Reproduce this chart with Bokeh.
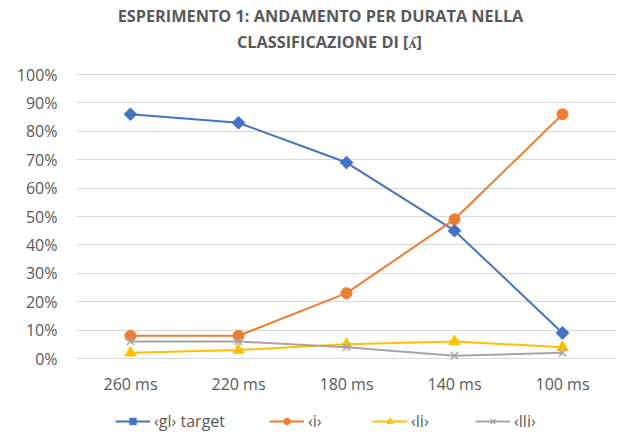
import math
from bokeh.plotting import figure
from bokeh.models import FactorRange, Range1d, Legend, LegendItem, NumeralTickFormatter, FixedTicker, Label
from bokeh.core.properties import value
from bokeh.embed import file_html
from bokeh.resources import INLINE

categories = ["260 ms", "220 ms", "180 ms", "140 ms", "100 ms"]
gl_target = [0.86, 0.83, 0.69, 0.45, 0.09]
i_vals = [0.08, 0.08, 0.23, 0.49, 0.86]
li_vals = [0.02, 0.03, 0.05, 0.06, 0.04]
lli_vals = [0.06, 0.06, 0.04, 0.01, 0.02]
series_names = ["‹gl› target", "‹i›", "‹li›", "‹lli›"]
y_ticks = [0, 0.1, 0.2, 0.3, 0.4, 0.5, 0.6, 0.7, 0.8, 0.9, 1.0]
title_lines = ["ESPERIMENTO 1: ANDAMENTO PER DURATA NELLA", "CLASSIFICAZIONE DI [ʎ]"]

FONT = "Open Sans"
TXT = "#595959"
PX = 284.0  # pixels per 100%

p = figure(width=617, height=433, x_range=FactorRange(*categories),
           y_range=Range1d(-(433 - 358) / PX, 1 + 74 / PX),
           x_axis_location=None,
           output_backend="svg", toolbar_location=None,
           min_border_left=76, min_border_right=1, min_border_top=0, min_border_bottom=0)
p.outline_line_color = None
p.background_fill_color = "white"
p.border_fill_color = "white"

ax = p.yaxis
ax.axis_line_color = None
ax.major_tick_line_color = None
ax.minor_tick_line_color = None
ax.major_label_text_color = TXT
ax.major_label_text_font = FONT
ax.major_label_text_font_size = "16px"
ax.ticker = FixedTicker(ticks=y_ticks)
ax.formatter = NumeralTickFormatter(format="0%")
ax.major_label_standoff = 13
p.xgrid.grid_line_color = None
p.ygrid.grid_line_color = "#D9D9D9"
p.ygrid.grid_line_width = 1
p.ygrid.ticker = FixedTicker(ticks=y_ticks)

# category labels (x axis)
p.text(x=categories, y=[-25 / PX] * len(categories), text=categories,
       text_align="center", text_baseline="middle", text_color=TXT,
       text_font=value(FONT), text_font_size="16px")

colors = ["#4472C4", "#ED7D31", "#FFC000", "#A5A5A5"]
data = [gl_target, i_vals, li_vals, lli_vals]
markers = ["square", "circle", "triangle", "x"]
sizes = [9, 11, 11, 10]
angles = [math.pi / 4, 0, 0, 0]
items = []
for name, vals, c, m, s, a in zip(series_names, data, colors, markers, sizes, angles):
    l = p.line(categories, vals, line_color=c, line_width=2)
    kw = dict(size=s, fill_color=c, line_color=c, angle=a)
    if m == "x":
        kw["line_width"] = 1.5
    sc = p.scatter(categories, vals, marker=m, **kw)
    items.append(LegendItem(label=name, renderers=[l, sc]))

legend = Legend(items=items, orientation="horizontal", location=(39, 1),
                label_text_font=FONT, label_text_font_size="16px", label_text_color=TXT,
                glyph_width=35, glyph_height=16, label_standoff=4, spacing=44,
                padding=0, margin=0, border_line_color=None, background_fill_alpha=0)
p.add_layout(legend, "center")

p.add_layout(Label(x=244, y=1 + 59 / PX, x_units="screen", text=title_lines[0],
                   text_align="center", text_baseline="middle", text_font=FONT,
                   text_font_style="bold", text_font_size="16.3px", text_color=TXT))
p.add_layout(Label(x=253, y=1 + 33 / PX, x_units="screen", text=title_lines[1],
                   text_align="center", text_baseline="middle", text_font=FONT,
                   text_font_style="bold", text_font_size="16.3px", text_color=TXT))

open("out.html", "w").write(file_html(p, INLINE))
